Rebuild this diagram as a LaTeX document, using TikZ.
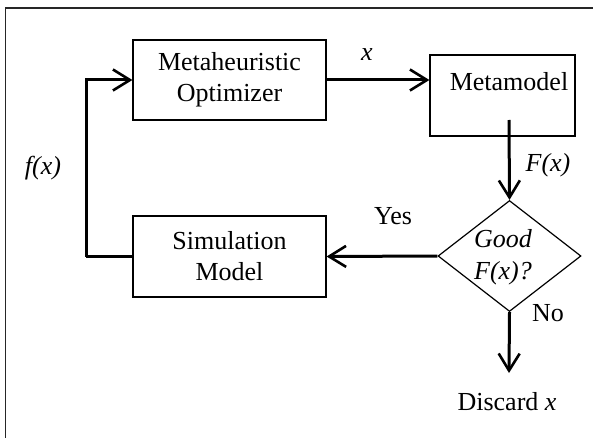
\documentclass[tikz,border=0pt]{standalone}
\usepackage{fontspec}
\setmainfont{Liberation Serif}
\usetikzlibrary{arrows.meta,shapes.geometric,calc}
\begin{document}
\begin{tikzpicture}[x=1pt,y=-1pt,
  font=\fontsize{26}{31}\selectfont,
  boxnode/.style={draw,line width=1.2pt,inner sep=0pt,align=center,minimum width=193pt,minimum height=80pt},
  flow/.style={line width=3pt,-{Straight Barb[length=17pt,width=21pt,line width=2.6pt]}},
  plainline/.style={line width=3pt},
  lbl/.style={inner sep=0pt}]
\useasboundingbox (0,0) rectangle (593,438);
\draw[line width=1.5pt,draw=black!85] (5.5,438) -- (5.5,8) -- (593,8);
% nodes
\node[boxnode] (opt) at (229.5,80) {Metaheuristic\\Optimizer};
\node[draw,line width=1.2pt,inner sep=0pt,minimum width=145pt,minimum height=81pt] (meta) at (502.5,95.5) {};
\node[lbl] (metatext) at (509,82) {Metamodel};
\node[draw,diamond,line width=1.2pt,inner sep=0pt,aspect=1.29,minimum width=143pt,minimum height=111pt] (dec) at (509.5,256) {};
\node[lbl,align=center,font=\fontsize{26}{32}\selectfont\itshape] (dectext) at (503,257) {Good\\F(x)?};
\node[boxnode,minimum height=81pt] (sim) at (229.5,256.5) {Simulation\\Model};
\coordinate (fstart) at (509,120);
\coordinate (dend) at (509,373);
\coordinate (fbk) at (86,256.5);
% connectors
\draw[flow] (opt.east) -- (opt.east -| meta.west);
\draw[flow] (fstart) -- (dec.north);
\draw[flow] (dec.west) -- (sim.east);
\draw[flow] (dec.south) -- (dend);
\draw[plainline] (sim.west) -- (fbk);
\draw[flow] (fbk) |- (opt.west);
% labels
\node[lbl,font=\fontsize{26}{31}\selectfont\itshape] (xl) at (367,55) {x};
\node[lbl,font=\fontsize{26}{31}\selectfont\itshape] (Fl) at (548,165) {F(x)};
\node[lbl] (yes) at (393,216) {Yes};
\node[lbl] (no) at (548,313) {No};
\node[lbl] (disc) at (507,402) {Discard \textit{x}};
\node[lbl,font=\fontsize{26}{31}\selectfont\itshape] (fl) at (43,168) {f(x)};
\end{tikzpicture}
\end{document}
